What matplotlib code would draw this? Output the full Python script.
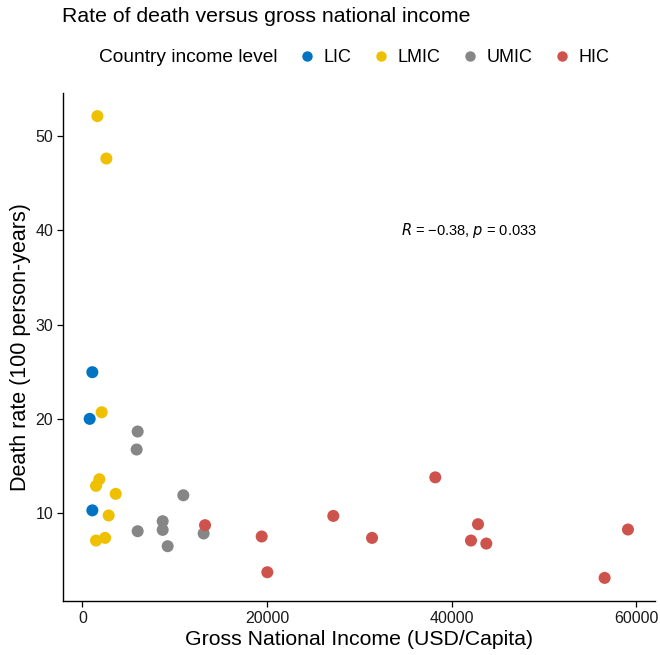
import matplotlib.pyplot as plt
from matplotlib.lines import Line2D

plt.rcParams['font.family'] = ['Liberation Sans', 'DejaVu Sans']

# data
levels = ['LIC', 'LMIC', 'UMIC', 'HIC']
colors = ['#0073C2', '#EFC000', '#868686', '#CD534C']

lic_gni = [790, 1080, 1080]
lic_rate = [20.0, 24.95, 10.3]

lmic_gni = [1625, 2600, 2090, 1840, 1480, 3610, 2850, 1480, 2460]
lmic_rate = [52.1, 47.6, 20.7, 13.6, 12.9, 12.05, 9.76, 7.1, 7.38]

umic_gni = [5990, 5880, 5990, 8700, 8700, 9240, 10940, 13140]
umic_rate = [18.66, 16.75, 8.09, 9.15, 8.23, 6.5, 11.9, 7.85]

hic_gni = [13290, 19430, 20040, 38240, 27190, 31390, 42870, 42110, 43770, 59120, 56590]
hic_rate = [8.73, 7.53, 3.74, 13.8, 9.71, 7.38, 8.83, 7.1, 6.78, 8.27, 3.14]

gni = [lic_gni, lmic_gni, umic_gni, hic_gni]
rate = [lic_rate, lmic_rate, umic_rate, hic_rate]

fig = plt.figure(figsize=(6.6, 6.55), dpi=100)
ax = fig.add_axes([63 / 660, 1 - 601 / 655, 592 / 660, 508 / 655])

for g, r, c in zip(gni, rate, colors):
    ax.scatter(g, r, s=75, color=c, edgecolors='none', zorder=3)

ax.set_xlim(-2100, 62050)
ax.set_ylim(0.69, 54.55)
ax.set_xticks([0, 20000, 40000, 60000])
ax.set_yticks([10, 20, 30, 40, 50])
for s in ['top', 'right']:
    ax.spines[s].set_visible(False)
for s in ['left', 'bottom']:
    ax.spines[s].set_linewidth(1.0)
ax.tick_params(direction='out', length=4, width=0.9, labelsize=11.5, colors='black', labelcolor='#1a1a1a', pad=3)

ax.set_xlabel('Gross National Income (USD/Capita)', fontsize=15.3, labelpad=3)
ax.set_ylabel('Death rate (100 person-years)', fontsize=15.5, labelpad=3)

ax.text(34550, 40, r'$\it{R}$ = −0.38, $\it{p}$ = 0.033', fontsize=10.5, va='center', ha='left')

fig.text(62 / 660, 1 - 17 / 655, 'Rate of death versus gross national income', fontsize=15.3, va='center', ha='left')
fig.text(99 / 660, 1 - 58 / 655, 'Country income level', fontsize=13.8, va='center', ha='left')

handles = [Line2D([], [], marker='o', linestyle='none', markersize=7.5, color=c, markeredgewidth=0) for c in colors]
fig.legend(handles, levels, ncol=4, loc='center left', bbox_to_anchor=(296 / 660, 1 - 58 / 655),
           frameon=False, fontsize=13, handletextpad=0.35, columnspacing=1.0, handlelength=1.2,
           borderpad=0, borderaxespad=0)

fig.savefig('out.png', dpi=100)
